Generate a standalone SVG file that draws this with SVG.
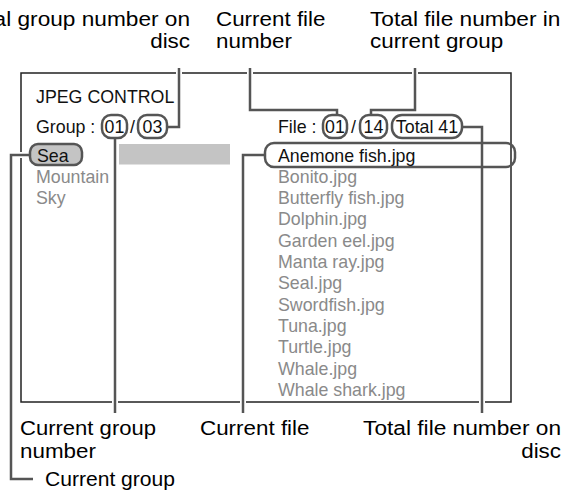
<svg xmlns="http://www.w3.org/2000/svg" width="563" height="492" viewBox="0 0 563 492">
<style>
  .lbl { font-family: "Liberation Sans", Arial, sans-serif; font-size: 20px; fill: #000; }
  .scr { font-family: "Liberation Sans", Arial, sans-serif; font-size: 17.8px; fill: #111; }
  .dim { fill: #8a8a8a; }
  .halo { fill: none; stroke: #fff; stroke-width: 6; }
  .co { fill: none; stroke: #555; stroke-width: 2.5; stroke-linejoin: miter; }
  .pill { fill: #fff; stroke: #555; stroke-width: 2.5; }
</style>
<rect width="563" height="492" fill="#fff"/>

<g id="screen">
  <rect x="21" y="73" width="490" height="329" fill="#fff" stroke="#222" stroke-width="1.5"/>
  <rect x="119" y="144" width="111" height="20.5" fill="#c4c4c4"/>
</g>

<g id="connectors">
  <path class="halo" d="M167,127 H179 V68 M250,68 V110 H337 V116 M415,68 V110 H371 V116 M462,127 H482 V413 M265,155 H243 V413 M115,138 V413 M30,155 H11 V479 H33"/>
  <path class="co" d="M167,127 H179 V68"/>
  <path class="co" d="M250,68 V110 H337 V116"/>
  <path class="co" d="M415,68 V110 H371 V116"/>
  <path class="co" d="M462,127 H482 V413"/>
  <path class="co" d="M265,155 H243 V413"/>
  <path class="co" d="M115,138 V413"/>
  <path class="co" d="M30,155 H11 V479 H33"/>
</g>

<g id="title"><text class="scr" x="36" y="103">JPEG CONTROL</text></g>

<g id="group-row">
  <text class="scr" x="36" y="133">Group :</text>
  <rect class="pill" x="102" y="115" width="25" height="23" rx="9"/>
  <text class="scr" x="114.5" y="133" text-anchor="middle">01</text>
  <text class="scr" x="132.5" y="133" text-anchor="middle">/</text>
  <rect class="pill" x="138" y="115" width="29" height="23" rx="9"/>
  <text class="scr" x="152.5" y="133" text-anchor="middle">03</text>
</g>

<g id="file-row">
  <text class="scr" x="278" y="133">File :</text>
  <rect class="pill" x="323" y="115" width="24" height="23" rx="9"/>
  <text class="scr" x="335" y="133" text-anchor="middle">01</text>
  <text class="scr" x="353.5" y="133" text-anchor="middle">/</text>
  <rect class="pill" x="360" y="115" width="27" height="23" rx="9"/>
  <text class="scr" x="373.5" y="133" text-anchor="middle">14</text>
  <rect class="pill" x="392" y="115" width="70" height="23" rx="10"/>
  <text class="scr" x="427" y="133" text-anchor="middle">Total 41</text>
</g>

<g id="group-list">
  <rect x="30" y="144" width="52" height="21" rx="8" fill="#c4c4c4" stroke="#555" stroke-width="2.5"/>
  <text class="scr" x="37" y="161.5">Sea</text>
  <text class="scr dim" x="36" y="182.8">Mountain</text>
  <text class="scr dim" x="36" y="204.1">Sky</text>
</g>

<g id="file-list">
  <rect x="265" y="143" width="250" height="24" rx="9" fill="none" stroke="#555" stroke-width="2.5"/>
  <text class="scr" x="278" y="161.5">Anemone fish.jpg</text>
  <text class="scr dim" x="278" y="182.8">Bonito.jpg</text>
  <text class="scr dim" x="278" y="204.1">Butterfly fish.jpg</text>
  <text class="scr dim" x="278" y="225.4">Dolphin.jpg</text>
  <text class="scr dim" x="278" y="246.7">Garden eel.jpg</text>
  <text class="scr dim" x="278" y="268">Manta ray.jpg</text>
  <text class="scr dim" x="278" y="289.3">Seal.jpg</text>
  <text class="scr dim" x="278" y="310.6">Swordfish.jpg</text>
  <text class="scr dim" x="278" y="331.9">Tuna.jpg</text>
  <text class="scr dim" x="278" y="353.2">Turtle.jpg</text>
  <text class="scr dim" x="278" y="374.5">Whale.jpg</text>
  <text class="scr dim" x="278" y="395.8">Whale shark.jpg</text>
</g>

<g id="label-total-group">
  <text class="lbl" x="190" y="26" text-anchor="end" textLength="226.6" lengthAdjust="spacingAndGlyphs">Total group number on</text>
  <text class="lbl" x="190" y="48" text-anchor="end" textLength="39.8" lengthAdjust="spacingAndGlyphs">disc</text>
</g>
<g id="label-current-file-number">
  <text class="lbl" x="216" y="26" textLength="109.5" lengthAdjust="spacingAndGlyphs">Current file</text>
  <text class="lbl" x="216" y="48" textLength="75.9" lengthAdjust="spacingAndGlyphs">number</text>
</g>
<g id="label-total-file-group">
  <text class="lbl" x="370" y="26" textLength="190.5" lengthAdjust="spacingAndGlyphs">Total file number in</text>
  <text class="lbl" x="370" y="48" textLength="133.2" lengthAdjust="spacingAndGlyphs">current group</text>
</g>
<g id="label-current-group-number">
  <text class="lbl" x="20" y="435" textLength="136" lengthAdjust="spacingAndGlyphs">Current group</text>
  <text class="lbl" x="20" y="458" textLength="75.9" lengthAdjust="spacingAndGlyphs">number</text>
</g>
<g id="label-current-file">
  <text class="lbl" x="200" y="435" textLength="109.5" lengthAdjust="spacingAndGlyphs">Current file</text>
</g>
<g id="label-total-file-disc">
  <text class="lbl" x="561" y="435" text-anchor="end" textLength="197.9" lengthAdjust="spacingAndGlyphs">Total file number on</text>
  <text class="lbl" x="561" y="458" text-anchor="end" textLength="39.8" lengthAdjust="spacingAndGlyphs">disc</text>
</g>
<g id="label-current-group">
  <text class="lbl" x="45" y="486" textLength="130" lengthAdjust="spacingAndGlyphs">Current group</text>
</g>
</svg>
